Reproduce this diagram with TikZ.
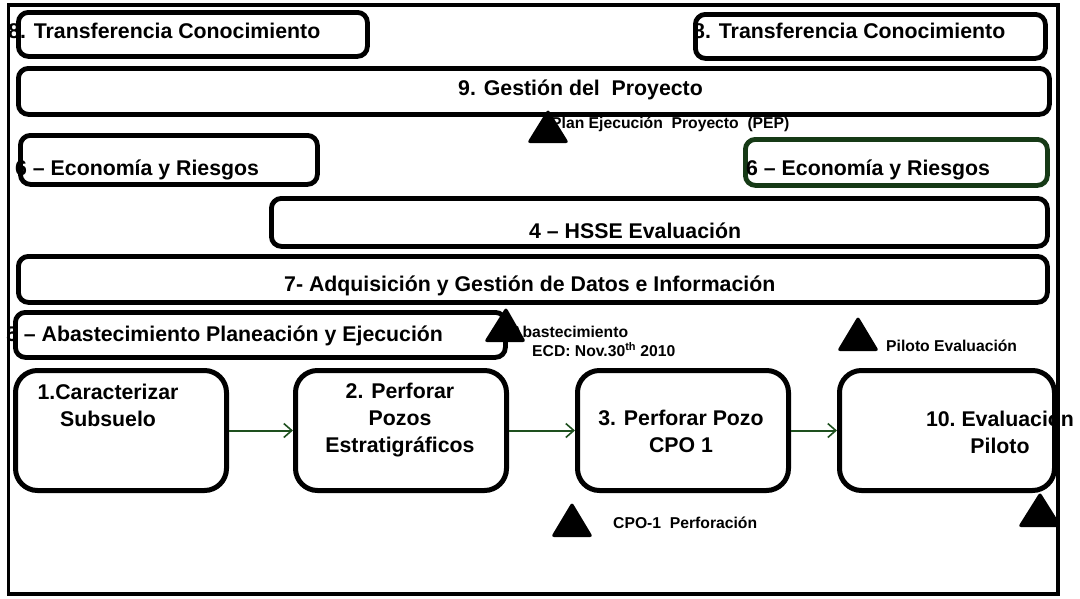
\documentclass[tikz,border=0pt]{standalone}
\usepackage{fontspec}
\setmainfont{Liberation Sans}
\usetikzlibrary{arrows.meta}
\definecolor{dkgreen}{RGB}{22,58,22}
\definecolor{argreen}{RGB}{30,80,30}
\begin{document}
\begin{tikzpicture}[x=1pt,y=-1pt,
  bar/.style={draw,line width=4.8pt,rounded corners=10pt,inner sep=0pt,anchor=north west},
  stage/.style={draw,line width=5pt,rounded corners=22pt,inner sep=0pt,anchor=north west,minimum width=211pt,minimum height=120pt},
  lbl/.style={anchor=base west,inner sep=0pt,font=\bfseries\fontsize{21.3}{27}\selectfont},
  stxt/.style={anchor=base,inner sep=0pt,align=center,font=\bfseries\fontsize{21.3}{27}\selectfont},
  small/.style={anchor=base west,inner sep=0pt,font=\bfseries\fontsize{15.7}{19}\selectfont},
  milestone/.style={fill=black,rounded corners=3pt},
  flow/.style={draw=argreen,line width=2pt,-{Straight Barb[length=8pt,width=14pt,line width=1.6pt]}}]
\useasboundingbox (0,0) rectangle (1080,598);
\fill[white] (0,0) rectangle (1080,598);

% horizontal bars
\node[bar,minimum width=349pt,minimum height=44pt] (tc1) at (16,10) {};
\node[bar,minimum width=350pt,minimum height=44pt] (tc2) at (693,12) {};
\node[bar,minimum width=1031pt,minimum height=46pt] (gp) at (16,66) {};
\node[bar,minimum width=297pt,minimum height=49pt] (er1) at (18,133) {};
\node[bar,draw=dkgreen,minimum width=302pt,minimum height=46pt] (er2) at (743,137) {};
\node[bar,minimum width=776pt,minimum height=48pt] (hs) at (269,196) {};
\node[bar,minimum width=1029pt,minimum height=46pt] (ad) at (16,254) {};
\node[bar,minimum width=490pt,minimum height=45pt] (ab) at (13,310) {};

% bar texts
\node[lbl] (tc1t) at (8,38) {8. Transferencia Conocimiento};
\node[lbl] (tc2t) at (693,38) {8. Transferencia Conocimiento};
\node[lbl] (gpt) at (458,95) {9. Gestión del\ \ Proyecto};
\node[lbl] (er1t) at (15,175) {6 – Economía y Riesgos};
\node[lbl] (er2t) at (746,175) {6 – Economía y Riesgos};
\node[lbl] (hst) at (529,238) {4 – HSSE Evaluación};
\node[lbl] (adt) at (284,291) {7- Adquisición y Gestión de\ Datos e Información};
\node[lbl] (abt) at (6,341) {5 – Abastecimiento Planeación y Ejecución};

% stage boxes
\node[stage] (s1) at (13,368) {};
\node[stage] (s2) at (293,368) {};
\node[stage] (s3) at (575,368) {};
\node[stage,minimum width=215pt] (s10) at (837,368) {};

\node[stxt] (s1t) at (108,426) {1.Caracterizar\\Subsuelo};
\node[stxt] (s2t) at (400,452) {2. Perforar\\Pozos\\Estratigráficos};
\node[stxt] (s3t) at (681,452) {3. Perforar Pozo\\CPO 1};
\node[stxt] (s10t) at (1000,453) {10.\ Evaluación\\Piloto};

% flow arrows
\draw[flow] (s1.east) -- (s2.west);
\draw[flow] (s2.east) -- (s3.west);
\draw[flow] (s3.east) -- (s10.west);

% milestone labels
\node[small] (pep) at (551,128) {Plan Ejecución\ \ Proyecto\ \ (PEP)};
\node[small] (abm) at (511,337) {Abastecimiento};
\node[small] (ecd) at (532,356) {ECD: Nov.30\textsuperscript{th} 2010};
\node[small] (pil) at (886,351) {Piloto Evaluación};
\node[small] (cpo) at (613,528) {CPO-1\ \ Perforación};

% milestone triangles
\fill[milestone] (548,109) -- (569,143) -- (527,143) -- cycle;
\fill[milestone] (506,307) -- (526,342) -- (484,342) -- cycle;
\fill[milestone] (858,316) -- (879,351) -- (837,351) -- cycle;
\fill[milestone] (572,502) -- (593,537) -- (551,537) -- cycle;
\begin{scope}
\clip (0,0) rectangle (1058,598);
\fill[milestone] (1040,492) -- (1062,527) -- (1018,527) -- cycle;
\end{scope}

% outer frame
\draw[line width=3.2pt] (8.5,5) rectangle (1058,594);
\end{tikzpicture}
\end{document}
